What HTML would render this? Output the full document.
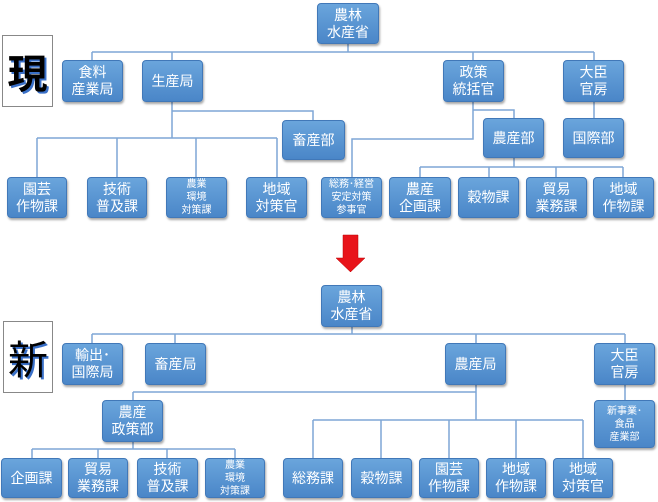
<!DOCTYPE html>
<html><head><meta charset="utf-8"><style>
body{margin:0;width:658px;height:502px;background:#fff;position:relative;overflow:hidden;font-family:"Liberation Sans","Noto Sans CJK JP",sans-serif}
.b{position:absolute;box-sizing:border-box;border-radius:4px;background:linear-gradient(#6aa5dc,#4a86c8);border:1px solid #4178b8;box-shadow:1px 2px 2px rgba(0,0,0,.35);color:#fff;font-size:14px;line-height:17px;display:flex;align-items:center;justify-content:center;text-align:center}
.s{font-size:10px;line-height:13px}
.k{position:absolute;box-sizing:border-box;border:1px solid #888;background:#fff;font-size:40px;font-weight:bold;display:flex;align-items:center;justify-content:center;text-shadow:2px 2px 0 #3a70c8}
svg{position:absolute;left:0;top:0}
</style></head><body>
<svg width="658" height="502" fill="none" stroke="#7ea6d6" stroke-width="1.5">
<path d="M348 44V52M92 52H594M92 52V60M172 52V60M473 52V60M594 52V60"/>
<path d="M172 102V138M172 111H313V120M37 138H277M37 138V177M117 138V177M196 138V177M277 138V177"/>
<path d="M473 102V139H352V177M473 110H514V118M514 158V167M420 167H623M420 167V177M489 167V177M556 167V177M623 167V177"/>
<path d="M594 102V118"/>
<path d="M352 327V334M92 334H625M92 334V343M175 334V343M476 334V343M625 334V343"/>
<path d="M476 385V420M133 392H476M133 392V400M133 442V449M32 449H235M32 449V458M98 449V458M167 449V458M235 449V458"/>
<path d="M313 420H583M313 420V458M381 420V458M449 420V458M516 420V458M583 420V458"/>
<path d="M625 385V400"/>
</svg>
<svg width="658" height="502"><path d="M343 235H358V258H365L350.5 272L336 258H343Z" fill="#e8141a" stroke="#b00" stroke-width=".5"/></svg>
<div class="k" style="left:2px;top:35px;width:51px;height:72px">現</div>
<div class="k" style="left:3px;top:321px;width:50px;height:72px;font-weight:normal">新</div>

<div class="b" style="left:317px;top:3px;width:62px;height:41px">農林<br>水産省</div>
<div class="b" style="left:62px;top:60px;width:61px;height:42px">食料<br>産業局</div>
<div class="b" style="left:142px;top:60px;width:61px;height:42px">生産局</div>
<div class="b" style="left:443px;top:60px;width:61px;height:42px">政策<br>統括官</div>
<div class="b" style="left:563px;top:60px;width:61px;height:42px">大臣<br>官房</div>
<div class="b" style="left:282px;top:120px;width:63px;height:40px">畜産部</div>
<div class="b" style="left:483px;top:118px;width:61px;height:40px">農産部</div>
<div class="b" style="left:563px;top:118px;width:61px;height:40px">国際部</div>
<div class="b" style="left:7px;top:177px;width:60px;height:41px">園芸<br>作物課</div>
<div class="b" style="left:87px;top:177px;width:60px;height:41px">技術<br>普及課</div>
<div class="b s" style="left:166px;top:177px;width:61px;height:41px">農業<br>環境<br>対策課</div>
<div class="b" style="left:246px;top:177px;width:61px;height:41px">地域<br>対策官</div>
<div class="b s" style="left:321px;top:177px;width:61px;height:41px">総務･経営<br>安定対策<br>参事官</div>
<div class="b" style="left:389px;top:177px;width:62px;height:41px">農産<br>企画課</div>
<div class="b" style="left:458px;top:177px;width:61px;height:41px">穀物課</div>
<div class="b" style="left:526px;top:177px;width:61px;height:41px">貿易<br>業務課</div>
<div class="b" style="left:593px;top:177px;width:61px;height:41px">地域<br>作物課</div>

<div class="b" style="left:321px;top:285px;width:61px;height:42px">農林<br>水産省</div>
<div class="b" style="left:62px;top:343px;width:61px;height:42px">輸出･<br>国際局</div>
<div class="b" style="left:145px;top:343px;width:61px;height:42px">畜産局</div>
<div class="b" style="left:445px;top:343px;width:61px;height:42px">農産局</div>
<div class="b" style="left:594px;top:343px;width:61px;height:42px">大臣<br>官房</div>
<div class="b" style="left:102px;top:400px;width:61px;height:42px">農産<br>政策部</div>
<div class="b s" style="left:594px;top:400px;width:61px;height:48px">新事業･<br>食品<br>産業部</div>
<div class="b" style="left:1px;top:458px;width:61px;height:40px">企画課</div>
<div class="b" style="left:68px;top:458px;width:60px;height:40px">貿易<br>業務課</div>
<div class="b" style="left:137px;top:458px;width:61px;height:40px">技術<br>普及課</div>
<div class="b s" style="left:205px;top:458px;width:60px;height:40px">農業<br>環境<br>対策課</div>
<div class="b" style="left:283px;top:458px;width:60px;height:40px">総務課</div>
<div class="b" style="left:351px;top:458px;width:61px;height:40px">穀物課</div>
<div class="b" style="left:419px;top:458px;width:60px;height:40px">園芸<br>作物課</div>
<div class="b" style="left:486px;top:458px;width:60px;height:40px">地域<br>作物課</div>
<div class="b" style="left:553px;top:458px;width:60px;height:40px">地域<br>対策官</div>
</body></html>
